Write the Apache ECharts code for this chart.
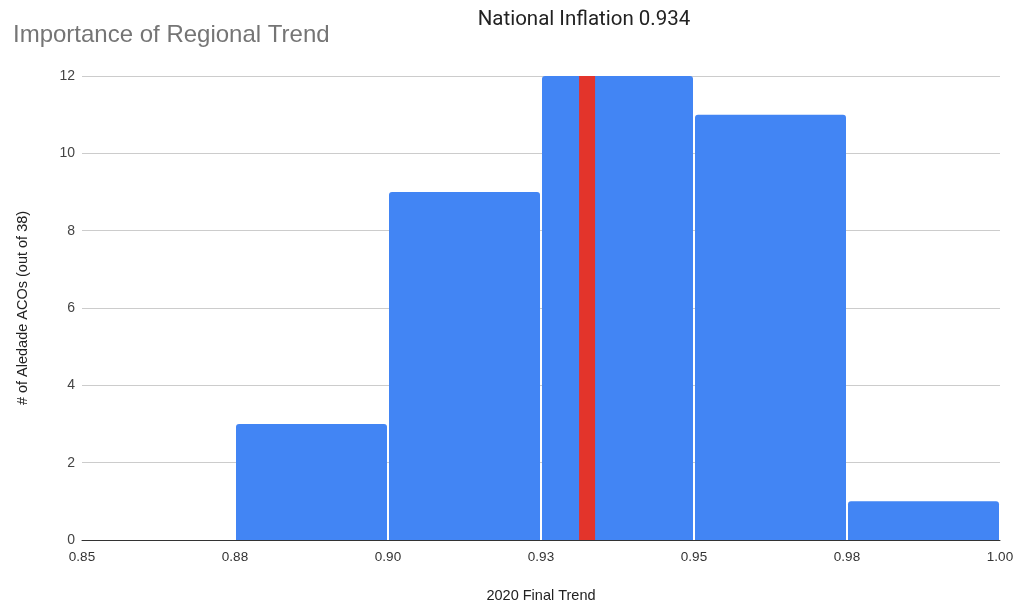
<!DOCTYPE html>
<html>
<head>
<meta charset="utf-8">
<script src="https://cdn.jsdelivr.net/npm/echarts@6/dist/echarts.min.js"></script>
<style>
  html, body { margin: 0; padding: 0; background: #fff; }
  #chart { width: 1018px; height: 603px; }
</style>
</head>
<body>
<div id="chart"></div>
<script>
// Histogram buckets (lower edge, upper edge) and ACO counts per bucket
const binStarts = [0.85, 0.875, 0.9, 0.925, 0.95, 0.975];
const binEnds   = [0.875, 0.9, 0.925, 0.95, 0.975, 1.0];
const binCounts = [0, 3, 9, 12, 11, 1];
// National inflation marker
const nationalInflation = 0.934;
const nationalHeight = 12;
// Axis tick labels
const xTickLabels = ['0.85', '0.88', '0.90', '0.93', '0.95', '0.98', '1.00'];
const yTicks = [0, 2, 4, 6, 8, 10, 12];

const chart = echarts.init(document.getElementById('chart'));

const histData = binStarts.map((s, i) => [s, binEnds[i], binCounts[i]]);
const sans = 'Liberation Sans, Arial, sans-serif';

chart.setOption({
  animation: false,
  textStyle: { fontFamily: sans },
  title: [
    {
      text: 'Importance of Regional Trend',
      left: 8, top: 18,
      textStyle: { fontSize: 24, fontWeight: 'normal', color: '#757575', fontFamily: sans }
    },
    {
      text: 'National Inflation ' + nationalInflation,
      left: 579, top: 4, textAlign: 'center',
      textStyle: { fontSize: 20.5, fontWeight: 'normal', color: '#222', fontFamily: 'Roboto, sans-serif' }
    }
  ],
  grid: { left: 82, right: 18, top: 76, bottom: 63, containLabel: false, outerBoundsMode: 'none' },
  xAxis: {
    type: 'value',
    min: 0.85, max: 1.0, interval: 0.025,
    name: '2020 Final Trend',
    nameLocation: 'middle', nameGap: 48,
    nameTextStyle: { fontSize: 14.5, color: '#222', fontFamily: sans },
    axisLine: { show: true, lineStyle: { color: '#333', width: 1 } },
    axisTick: { show: false },
    splitLine: { show: false },
    axisLabel: {
      fontSize: 13.5, color: '#333', margin: 10,
      fontFamily: sans,
      formatter: (v, i) => xTickLabels[i] !== undefined ? xTickLabels[i] : v.toFixed(2)
    }
  },
  yAxis: {
    type: 'value',
    min: yTicks[0], max: yTicks[yTicks.length - 1], interval: 2,
    name: '# of Aledade ACOs (out of 38)',
    nameLocation: 'middle', nameGap: 52, nameRotate: 90,
    nameTextStyle: { fontSize: 14.5, color: '#222', fontFamily: sans },
    axisLine: { show: false },
    axisTick: { show: false },
    splitLine: { lineStyle: { color: '#cccccc', width: 1 } },
    axisLabel: { fontSize: 14, color: '#444', margin: 7, fontFamily: sans }
  },
  series: [
    {
      type: 'custom',
      data: histData,
      encode: { x: [0, 1], y: 2 },
      renderItem: (params, api) => {
        const h = api.value(2);
        if (!h) return null;
        const p0 = api.coord([api.value(0), h]);
        const p1 = api.coord([api.value(1), 0]);
        return {
          type: 'rect',
          shape: { x: p0[0] + 1, y: p0[1], width: p1[0] - p0[0] - 2, height: p1[1] - p0[1], r: [3, 3, 0, 0] },
          style: { fill: '#4285F4' }
        };
      },
      z: 2
    },
    {
      type: 'custom',
      data: [[nationalInflation, nationalHeight]],
      encode: { x: 0, y: 1 },
      renderItem: (params, api) => {
        const top = api.coord([api.value(0), api.value(1)]);
        const base = api.coord([api.value(0), 0]);
        const w = 16;
        return {
          type: 'rect',
          shape: { x: top[0] - w - 1, y: top[1], width: w, height: base[1] - top[1] },
          style: { fill: '#E3342B' }
        };
      },
      z: 3
    }
  ]
});
</script>
</body>
</html>
